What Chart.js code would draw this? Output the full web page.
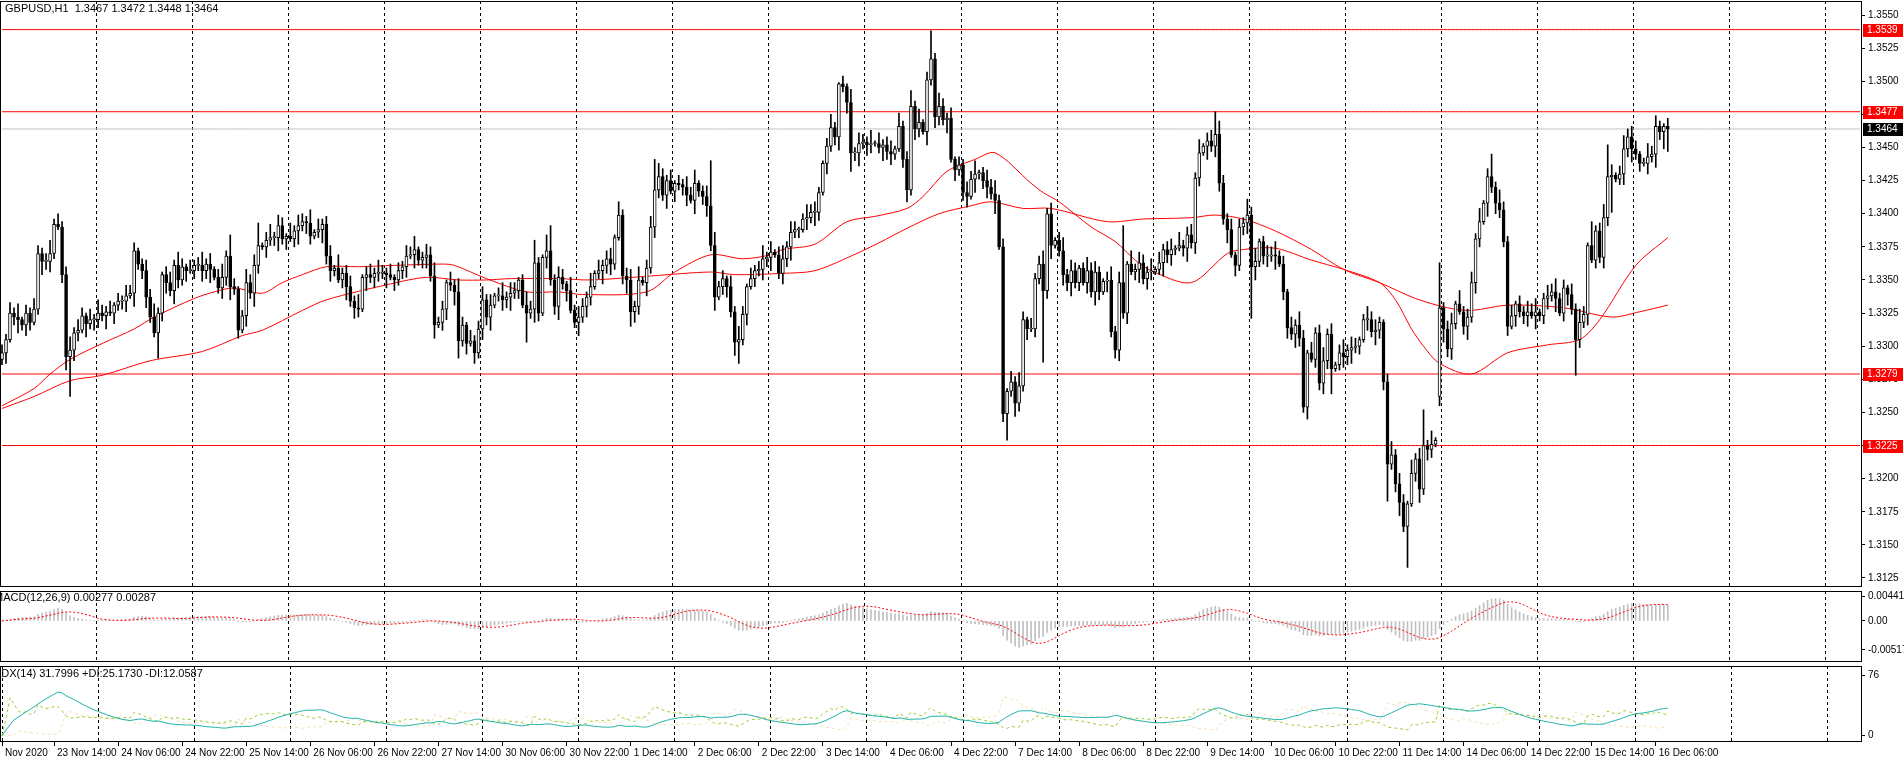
<!DOCTYPE html>
<html><head><meta charset="utf-8">
<script src="https://cdn.jsdelivr.net/npm/chart.js@4.4.1/dist/chart.umd.min.js"></script>
<style>
html,body{margin:0;padding:0;background:#fff;overflow:hidden;}
canvas{position:absolute;left:0;}
</style></head>
<body>
<canvas id="main" width="1904" height="588" style="top:0"></canvas>
<canvas id="macd" width="1904" height="75" style="top:589px"></canvas>
<canvas id="adx" width="1904" height="96" style="top:664px"></canvas>
<script>
// ---- DATA (GBPUSD H1, prices as last 4 digits: 3295 => 1.3295) ----
const closes = [3295,3305,3325,3322,3320,3316,3325,3318,3328,3370,3364,3364,3370,3392,3390,3354,3292,3297,3310,3312,
3323,3317,3320,3320,3325,3323,3326,3325,3331,3334,3334,3338,3340,3372,3362,3357,3337,3322,3310,3325,
3354,3348,3342,3361,3350,3360,3357,3357,3361,3361,3357,3362,3358,3352,3344,3352,3368,3345,3343,3312,
3323,3348,3340,3361,3376,3375,3380,3382,3382,3391,3381,3383,3381,3387,3391,3394,3393,3383,3386,3388,
3392,3368,3357,3359,3350,3355,3345,3334,3329,3328,3352,3354,3352,3355,3355,3355,3354,3352,3350,3357,
3360,3368,3369,3373,3365,3367,3369,3353,3316,3318,3328,3348,3346,3341,3304,3316,3302,3304,3295,3313,
3335,3322,3331,3338,3338,3335,3337,3340,3342,3350,3331,3325,3328,3363,3325,3367,3372,3350,3330,3352,
3347,3342,3327,3318,3322,3330,3337,3345,3355,3357,3361,3366,3362,3382,3399,3353,3350,3326,3330,3350,
3348,3359,3390,3418,3428,3414,3425,3417,3423,3422,3420,3414,3410,3423,3417,3413,3406,3376,3337,3345,
3351,3345,3326,3303,3305,3324,3345,3351,3357,3358,3366,3367,3371,3369,3355,3366,3375,3386,3388,3388,
3396,3397,3401,3401,3416,3438,3451,3465,3458,3498,3496,3484,3446,3446,3453,3454,3452,3453,3453,3450,
3452,3447,3445,3449,3466,3441,3418,3481,3464,3469,3462,3501,3517,3473,3481,3471,3472,3441,3433,3437,
3416,3413,3426,3430,3431,3425,3420,3415,3410,3375,3249,3266,3273,3257,3270,3320,3313,3313,3351,3362,
3342,3400,3376,3380,3372,3354,3348,3357,3348,3359,3348,3357,3341,3356,3341,3349,3350,3311,3297,3348,
3325,3362,3356,3358,3363,3351,3356,3356,3358,3363,3373,3369,3373,3374,3376,3374,3384,3378,3427,3446,
3451,3455,3451,3460,3423,3396,3388,3369,3361,3390,3393,3399,3360,3364,3379,3368,3368,3369,3368,3362,
3341,3314,3309,3316,3306,3254,3295,3290,3310,3272,3289,3309,3283,3286,3295,3292,3297,3299,3300,3305,
3320,3320,3311,3312,3318,3273,3211,3218,3196,3182,3164,3181,3204,3215,3192,3225,3222,3226,3229,3329,
3313,3298,3317,3332,3326,3315,3322,3348,3381,3394,3408,3428,3420,3408,3403,3379,3315,3323,3332,3326,
3323,3326,3323,3326,3323,3336,3338,3341,3336,3325,3344,3339,3328,3305,3318,3324,3376,3365,3387,3367,
3397,3428,3429,3426,3430,3449,3458,3449,3445,3438,3438,3443,3445,3466,3462,3466,3464];
const openFix = {0:3290, 9:3328, 33:3340, 133:3328, 135:3325, 227:3418, 255:3270, 261:3342, 298:3378, 359:3262, 396:3324};
const wickUp = "3242513243235142352431425324132435124352134253142352413524312534213524315243251423415234251342532413"+
"2435124352314253142352413524312534213524315243251423415234251342532413243512435231425314235241352431"+
"2534213524315243251423415234251342532413243512435231425314235241352431253421352431524325142341523425"+
"1342532413243512435231425314235241352431253421352431524325142341523425134253241324351243523142531423"+
"52413524312534213524";
const wickDn = "2413524312534213524315243251423415234251342532413243512435231425314235241352431253421352431524325142"+
"3415234251342532413243512435231425314235241352431253421352431524325142341523425134253241324351243523"+
"1425314235241352431253421352431524325142341523425134253241324351243523142531423524135243125342135243"+
"1524325142341523425134253241324351243523142531423524135243125342135243152432514234152342513425324132"+
"43512435231425314235";
const highFix = {13:3396, 33:3378, 57:3384, 64:3393, 133:3380, 136:3384, 137:3391, 163:3441, 177:3440, 209:3499,
  227:3493, 232:3538, 261:3404, 280:3391, 303:3477, 311:3411, 355:3252, 359:3363, 372:3445, 397:3394, 401:3452, 406:3464, 416:3472};
const lowFix = {17:3262, 38:3307, 39:3291, 114:3291, 118:3287, 131:3303, 143:3314, 157:3315, 184:3287, 212:3432,
  226:3409, 251:3229, 260:3288, 279:3289, 312:3321, 326:3245, 329:3267, 332:3264, 345:3267, 346:3183, 351:3133,
  359:3255, 376:3308, 393:3278, 402:3401, 415:3449, 416:3447};
// moving averages: [bar, value]
const maFastPts = [[0,3255],[8,3268],[12,3279],[17,3290],[25,3302],[33,3313],[38,3322],[48,3336],[53,3341],[58,3344],
 [65,3340],[70,3348],[75,3354],[81,3360],[89,3360],[98,3361],[110,3362],[113,3361],[121,3351],[131,3341],[139,3341],
 [145,3339],[161,3341],[168,3356],[177,3369],[185,3366],[192,3369],[195,3373],[203,3377],[211,3394],[218,3398],
 [226,3404],[230,3413],[236,3432],[243,3441],[248,3446],[257,3423],[260,3416],[264,3409],[272,3390],[278,3379],
 [283,3365],[287,3357],[297,3348],[306,3370],[310,3373],[318,3374],[327,3365],[335,3358],[344,3348],[348,3335],
 [352,3313],[355,3300],[359,3287],[367,3279],[376,3295],[386,3301],[394,3305],[399,3320],[408,3361],[416,3382]];
const maSlowPts = [[0,3253],[8,3262],[17,3274],[25,3278],[37,3289],[50,3296],[60,3308],[65,3312],[75,3327],[81,3335],
 [97,3347],[106,3352],[114,3350],[121,3350],[127,3351],[139,3351],[147,3350],[162,3353],[177,3356],[183,3354],
 [195,3355],[203,3357],[212,3368],[219,3378],[226,3389],[234,3400],[242,3406],[247,3409],[255,3404],[262,3404],
 [276,3394],[285,3396],[297,3397],[303,3399],[310,3396],[318,3387],[327,3373],[335,3358],[344,3348],[353,3336],
 [361,3329],[367,3327],[376,3331],[390,3329],[402,3322],[409,3326],[416,3331]];
const levels = [1.3539, 1.3477, 1.3279, 1.3225];
const lastPrice = 1.3464;
const priceTicks = [1.3550,1.3525,1.3500,1.3475,1.3450,1.3425,1.3400,1.3375,1.3350,1.3325,1.3300,1.3275,1.3250,1.3225,1.3200,1.3175,1.3150,1.3125];
const timeLabelIdx = [0,13,29,45,61,77,93,109,125,141,157,173,189,205,221,237,253,269,285,301,317,333,349,365,381,397,413];
const timeLabelText = ["Nov 2020","23 Nov 14:00","24 Nov 06:00","24 Nov 22:00","25 Nov 14:00","26 Nov 06:00","26 Nov 22:00",
 "27 Nov 14:00","30 Nov 06:00","30 Nov 22:00","1 Dec 14:00","2 Dec 06:00","2 Dec 22:00","3 Dec 14:00","4 Dec 06:00",
 "4 Dec 22:00","7 Dec 14:00","8 Dec 06:00","8 Dec 22:00","9 Dec 14:00","10 Dec 06:00","10 Dec 22:00","11 Dec 14:00",
 "14 Dec 06:00","14 Dec 22:00","15 Dec 14:00","16 Dec 06:00"];
const totalSlots = 465;

// ---- build ----
const P = v => 1 + v/10000;
const N = closes.length;
const O=[],H=[],L=[],C=[];
for (let i=0;i<N;i++){
  const o = openFix[i]!==undefined ? openFix[i] : (i? closes[i-1] : closes[0]);
  const c = closes[i];
  let h = Math.max(o,c) + 2*(+wickUp[i]||0);
  let l = Math.min(o,c) - 2*(+wickDn[i]||0);
  if (highFix[i]!==undefined) h = Math.max(highFix[i], Math.max(o,c));
  if (lowFix[i]!==undefined) l = Math.min(lowFix[i], Math.min(o,c));
  O.push(P(o)); C.push(P(c)); H.push(P(h)); L.push(P(l));
}
const labels = Array.from({length: totalSlots}, (_,i)=>String(i));
const pad = arr => { const a = new Array(totalSlots).fill(null); arr.forEach((v,i)=>a[i]=v); return a; };
const sparse = pts => { const a = new Array(totalSlots).fill(null); pts.forEach(([i,v])=>a[i]=P(v)); return a; };

// indicators derived from candles
function ema(src, n){ const k=2/(n+1); const out=[]; let e=src[0]; src.forEach((v,i)=>{ e = i? v*k+e*(1-k): v; out.push(e);}); return out; }
const e12 = ema(C,12), e26 = ema(C,26);
const macdMain = C.map((_,i)=>e12[i]-e26[i]);
const macdSig = macdMain.map((_,i)=>{ const s=Math.max(0,i-8); let t=0; for(let j=s;j<=i;j++) t+=macdMain[j]; return t/(i-s+1); });
// ADX(14)
const plusDI=[], minusDI=[], adx=[];
{ let sTR=0,sP=0,sM=0, a=null; const n=14;
  for (let i=0;i<N;i++){
    let tr = H[i]-L[i], pdm=0, mdm=0;
    if (i>0){ tr = Math.max(H[i]-L[i], Math.abs(H[i]-C[i-1]), Math.abs(L[i]-C[i-1]));
      const up = H[i]-H[i-1], dn = L[i-1]-L[i];
      pdm = (up>dn && up>0)? up:0; mdm = (dn>up && dn>0)? dn:0; }
    if (i<n){ sTR+=tr; sP+=pdm; sM+=mdm; } else { sTR = sTR - sTR/n + tr; sP = sP - sP/n + pdm; sM = sM - sM/n + mdm; }
    const pdi = sTR? 100*sP/sTR:0, mdi = sTR? 100*sM/sTR:0;
    const dx = (pdi+mdi)? 100*Math.abs(pdi-mdi)/(pdi+mdi):0;
    a = (a===null)? dx : (a*(n-1)+dx)/n;
    plusDI.push(pdi); minusDI.push(mdi); adx.push(a);
  }
}

// ---- shared helpers ----
const FONT = "'Liberation Sans', Arial, sans-serif";
const gridColor = ctx => (ctx.index % 24 === 0) ? '#000' : 'rgba(0,0,0,0)';
const frame = { id:'frame', afterDraw(ch){ const a=ch.chartArea, c=ch.ctx; c.save(); c.strokeStyle='#000'; c.lineWidth=1;
  c.strokeRect(Math.floor(a.left)+0.5, Math.floor(a.top)+0.5, Math.round(a.right-a.left)-1, Math.round(a.bottom-a.top)-1); c.restore(); } };
function yAxis(min,max,ticks,fmt){
  return { position:'right', min, max,
    afterFit(s){ s.width = 42; s.paddingTop = 0; s.paddingBottom = 0; },
    afterBuildTicks(s){ s.ticks = ticks.map(v=>({value:v})); },
    ticks:{ color:'#000', font:{family:FONT,size:10}, padding:3, callback:fmt },
    grid:{ drawOnChartArea:false, tickLength:3, color:'#000' }, border:{display:false} };
}
const xHidden = { offset:true, ticks:{display:false, autoSkip:false},
  afterFit(s){ s.height = 0; s.paddingLeft = 0; s.paddingRight = 0; },
  grid:{ color:gridColor, drawTicks:false, tickLength:0 }, border:{display:false, dash:[3,3]} };
const base = { responsive:false, animation:false, devicePixelRatio:1, events:[],
  plugins:{ legend:{display:false}, tooltip:{enabled:false} } };

// ---- main price chart ----
const textMain = { id:'textMain', afterDraw(ch){
  const c=ch.ctx, y=ch.scales.y; c.save();
  c.font = "11px "+FONT; c.fillStyle='#000'; c.textBaseline='middle';
  c.fillText("GBPUSD,H1  1.3467 1.3472 1.3448 1.3464", 5, 9);
  c.font = "10px "+FONT;
  const tag = (v,bg)=>{ const py = Math.round(y.getPixelForValue(v)); c.fillStyle=bg; c.fillRect(1863, py-6, 40, 13);
    c.fillStyle='#fff'; c.textAlign='left'; c.fillText(v.toFixed(4), 1867, py+0.5); };
  levels.forEach(v=>tag(v,'#ff0000')); tag(lastPrice,'#000');
  c.restore(); } };
const levelSets = levels.map(v=>({ type:'line', data:new Array(totalSlots).fill(v), borderColor:'#ff0000', borderWidth:1, pointRadius:0 }));
new Chart(document.getElementById('main'), {
  data:{ labels, datasets:[
    { type:'bar', grouped:false, data: pad(O.map((o,i)=>[o,C[i]])), barThickness:3, minBarLength:1, borderSkipped:false, borderWidth:1,
      borderColor:'#000', backgroundColor: pad(O.map((o,i)=> C[i]>=o ? '#fff' : '#000')) },
    { type:'bar', grouped:false, data: pad(L.map((l,i)=>[l,H[i]])), barThickness:1, backgroundColor:'#000', borderWidth:0 },
    { type:'line', data: sparse(maFastPts), spanGaps:true, borderColor:'#ff0000', borderWidth:1, pointRadius:0, tension:0.3 },
    { type:'line', data: sparse(maSlowPts), spanGaps:true, borderColor:'#ff0000', borderWidth:1, pointRadius:0, tension:0.3 },
    { type:'line', data:new Array(totalSlots).fill(lastPrice), borderColor:'#c0c0c0', borderWidth:1, pointRadius:0 },
    ...levelSets ]},
  options: Object.assign({}, base, { layout:{padding:{top:1,bottom:1,left:0,right:0}},
    scales:{ x: xHidden, y: yAxis(1.31182, 1.35606, priceTicks, v=>v.toFixed(4)) } }),
  plugins:[frame, textMain]
});

// ---- MACD ----
const textMacd = { id:'textMacd', afterDraw(ch){ const c=ch.ctx; c.save(); c.font="11px "+FONT; c.fillStyle='#000'; c.textBaseline='middle';
  c.fillText("MACD(12,26,9) 0.00277 0.00287", -6, 9); c.restore(); } };
new Chart(document.getElementById('macd'), {
  data:{ labels, datasets:[
    { type:'line', data: pad(macdSig), borderColor:'#ff0000', borderWidth:1, borderDash:[2,2], pointRadius:0 },
    { type:'bar', data: pad(macdMain), barThickness:1, backgroundColor:'#c0c0c0', borderWidth:0 } ]},
  options: Object.assign({}, base, { layout:{padding:{top:2,bottom:2}},
    scales:{ x: xHidden, y: yAxis(-0.0073, 0.0053, [0.00441,0,-0.00517], v=> v===0?'0.00':v.toFixed(5)) } }),
  plugins:[frame, textMacd]
});

// ---- ADX ----
const textAdx = { id:'textAdx', afterDraw(ch){ const c=ch.ctx; c.save(); c.font="11px "+FONT; c.fillStyle='#000'; c.textBaseline='middle';
  c.fillText("ADX(14) 31.7996 +DI:25.1730 -DI:12.0587", -6, 10); c.restore(); } };
new Chart(document.getElementById('adx'), {
  data:{ labels, datasets:[
    { type:'line', data: pad(adx), borderColor:'#20b2aa', borderWidth:1, pointRadius:0 },
    { type:'line', data: pad(plusDI), borderColor:'#9acd32', borderWidth:1, borderDash:[3,3], pointRadius:0 },
    { type:'line', data: pad(minusDI), borderColor:'#f5deb3', borderWidth:1, borderDash:[3,3], pointRadius:0 } ]},
  options: Object.assign({}, base, { layout:{padding:{top:2,bottom:0}},
    scales:{
      x:{ offset:true, border:{display:false, dash:[3,3]},
          afterFit(s){ s.paddingLeft = 0; s.paddingRight = 0; },
          grid:{ color:gridColor, tickColor: ctx => timeLabelIdx.includes(ctx.index) ? '#000' : 'rgba(0,0,0,0)', tickLength:4, offset:false },
          ticks:{ autoSkip:false, maxRotation:0, align:'start', color:'#000', font:{family:FONT,size:10}, padding:1, labelOffset:3,
            callback:(v,i)=>{ const k=timeLabelIdx.indexOf(i); return k>=0? timeLabelText[k] : ''; } } },
      y: yAxis(-8, 88, [76,0], v=>String(v)) } }),
  plugins:[frame, textAdx]
});
</script></body></html>
